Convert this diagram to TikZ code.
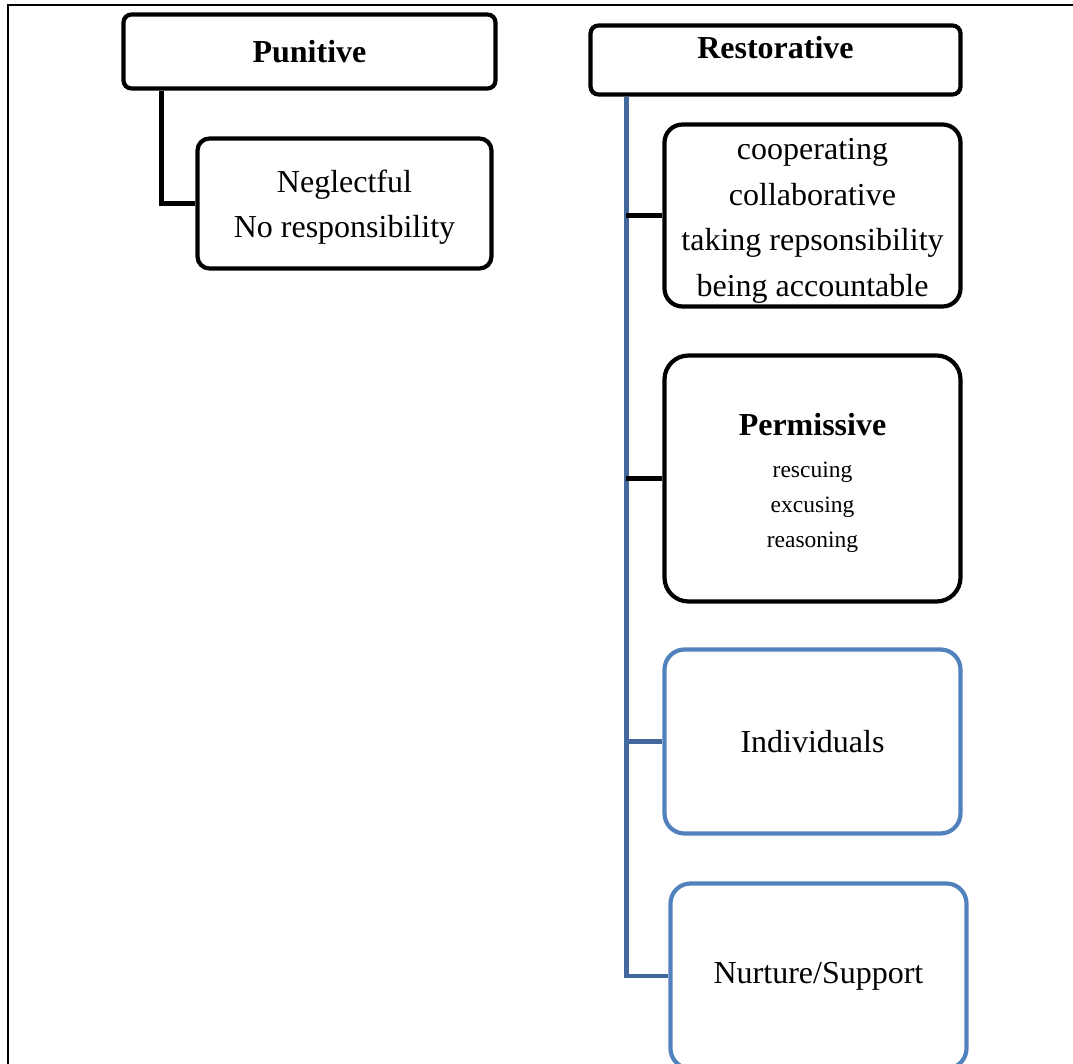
\documentclass[tikz,border=0pt]{standalone}
\usepackage{fontspec}
\setmainfont{Liberation Serif}
\definecolor{stemblue}{RGB}{66,104,158}
\definecolor{boxblue}{RGB}{82,130,190}
\newcommand{\lil}{\fontsize{23.5}{34.5}\selectfont}
\newcommand{\lift}[1]{\rule{0pt}{#1}}
\begin{document}
\begin{tikzpicture}[x=1pt, y=-1pt,
    nodes={draw, line width=4.2pt, inner sep=0pt, align=center, font=\fontsize{32}{45.5}\selectfont},
    bluebox/.style={draw=boxblue},
    stemline/.style={draw=stemblue, line width=4.5pt},
    twig/.style={line width=4.5pt}]
\useasboundingbox (0,0) rectangle (1073,1064);
\draw[line width=2.5pt] (1073,5) -- (8,5) -- (8,1064);
\node[minimum width=372pt, minimum height=74pt, rounded corners=8pt] (pun) at (309.5,51.5) {\bfseries Punitive};
\node[minimum width=294pt, minimum height=130pt, rounded corners=12pt] (negl) at (344.5,203.5) {\lift{30pt}Neglectful\\No responsibility};
\node[minimum width=370pt, minimum height=69pt, rounded corners=8pt, text depth=26pt] (resto) at (775.5,60) {\bfseries Restorative};
\node[minimum width=296pt, minimum height=182pt, rounded corners=18pt] (coop) at (812.5,215.5) {\lift{32pt}cooperating\\collaborative\\taking repsonsibility\\being accountable};
\node[minimum width=296pt, minimum height=246pt, rounded corners=24pt] (perm) at (812.5,478.5) {\lift{32pt}{\bfseries Permissive}\\[-3.5pt]\lil rescuing\\[-11pt]\lil excusing\\[-10pt]\lil reasoning};
\node[bluebox, minimum width=296pt, minimum height=184pt, rounded corners=20pt] (indiv) at (812.5,741.5) {Individuals};
\node[bluebox, minimum width=296pt, minimum height=185pt, rounded corners=20pt] (nurt) at (818.5,976) {Nurture/Support};
\coordinate (stem) at ([xshift=38pt]resto.south west);
\draw[twig] ([xshift=40pt]pun.south west) |- (negl.west);
\draw[stemline] (stem) |- (nurt.west);
\draw[stemline] (stem |- indiv.west) -- (indiv.west);
\draw[twig] (stem |- coop.west) -- (coop.west);
\draw[twig] (stem |- perm.west) -- (perm.west);
\end{tikzpicture}
\end{document}
